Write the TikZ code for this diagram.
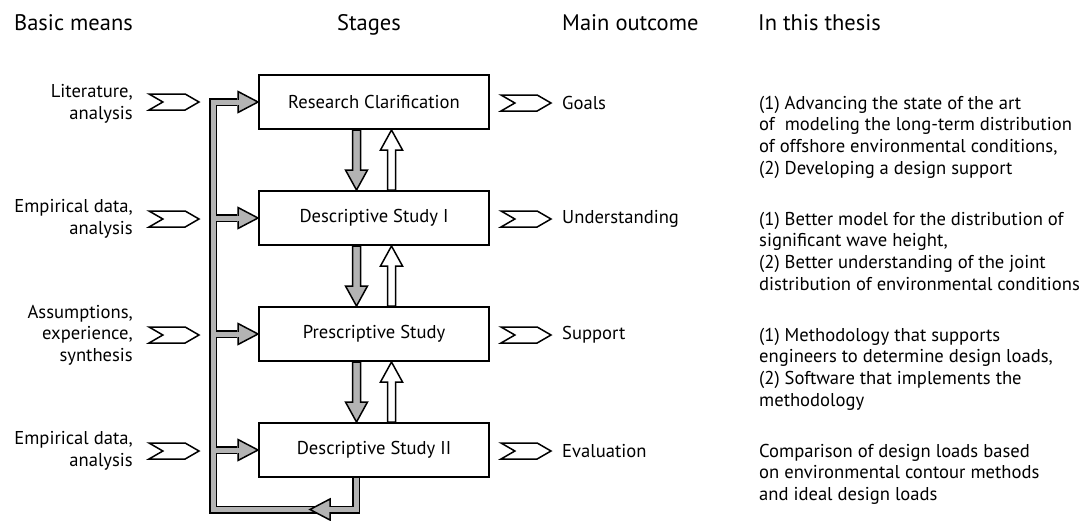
\documentclass[tikz,border=0pt]{standalone}
\usepackage{fontspec}
\setmainfont{PT Sans}
\usetikzlibrary{calc,shapes.symbols}
\definecolor{fatgray}{RGB}{179,179,179}
\begin{document}
\begin{tikzpicture}[x=1pt,y=-1pt,
  every node/.style={font=\fontsize{18.6}{21.7}\selectfont, inner sep=0pt},
  header/.style={font=\fontsize{22.5}{26}\selectfont},
  stagebox/.style={draw, line width=2pt, minimum width=230pt, minimum height=54pt},
  chevron/.style={signal, signal from=west, signal to=east, draw, line width=1.5pt,
    minimum width=50pt, minimum height=16pt, signal pointer angle=60},
  means/.style={anchor=east, align=right},
  outcome/.style={anchor=west},
  thesis/.style={anchor=base west, align=left},
  fatout/.style={line width=8pt, line join=miter},
  fatin/.style={line width=5pt, line join=miter, draw=fatgray},
  headtip/.style={fill=fatgray, draw=black, line width=1.5pt, line join=miter},
]
\useasboundingbox (0,0) rectangle (1090,520);

% a thick outlined arrow from #2 to #3, filled with #1
\newcommand\fatarrow[3][fatgray]{%
  \coordinate (fa-s) at #2;
  \coordinate (fa-e) at #3;
  \coordinate (fa-h) at ($(fa-e)!20pt!(fa-s)$);
  \filldraw[fill=#1, draw=black, line width=1.5pt, line join=miter]
    ($(fa-s)!4pt!90:(fa-e)$) -- ($(fa-h)!4pt!90:(fa-e)$) -- ($(fa-h)!11pt!90:(fa-e)$)
    -- (fa-e) -- ($(fa-h)!11pt!-90:(fa-e)$) -- ($(fa-h)!4pt!-90:(fa-e)$)
    -- ($(fa-s)!4pt!-90:(fa-e)$) -- cycle;}

% column headers
\node[header, anchor=base west] (hMeans) at (14,30) {Basic means};
\node[header, anchor=base] (hStages) at (369,30) {Stages};
\node[header, anchor=base west] (hOutcome) at (562,30) {Main outcome};
\node[header, anchor=base west] (hThesis) at (758,30) {In this thesis};

% stages
\node[stagebox] (RC)  at (374,102) {Research Clarification};
\node[stagebox] (DS1) at (374,218) {Descriptive Study I};
\node[stagebox] (PS)  at (374,334) {Prescriptive Study};
\node[stagebox] (DS2) at (374,450) {Descriptive Study II};

% basic means
\node[means] (mRC)  at (133,104) {Literature,\\analysis};
\node[means] (mDS1) at (133,219) {Empirical data,\\analysis};
\node[means] (mPS)  at (133,335) {Assumptions,\\experience,\\synthesis};
\node[means] (mDS2) at (133,451) {Empirical data,\\analysis};
\node[chevron] (iRC)  at (174,102) {};
\node[chevron] (iDS1) at (174,219) {};
\node[chevron] (iPS)  at (174,335) {};
\node[chevron] (iDS2) at (174,451) {};

% outcomes
\node[chevron] (oRC)  at (526,103) {};
\node[chevron] (oDS1) at (526,219) {};
\node[chevron] (oPS)  at (526,335) {};
\node[chevron] (oDS2) at (526,451) {};
\node[outcome] (gRC)  at (562,103) {Goals};
\node[outcome] (gDS1) at (562,219) {Understanding};
\node[outcome] (gPS)  at (562,335) {Support};
\node[outcome] (gDS2) at (562,451) {Evaluation};

% in this thesis (anchored at the baseline of the last line)
\node[thesis] (tRC) at (759,174.1) {(1) Advancing the state of the art\\of\ \ modeling the long-term distribution\\of offshore environmental conditions,\\(2) Developing a design support};
\node[thesis] (tDS1) at (759,290.1) {(1) Better model for the distribution of\\significant wave height,\\(2) Better understanding of the joint\\distribution of environmental conditions};
\node[thesis] (tPS) at (759,406.1) {(1) Methodology that supports\\engineers to determine design loads,\\(2) Software that implements the\\methodology};
\node[thesis] (tDS2) at (759,500.4) {Comparison of design loads based\\on environmental contour methods\\and ideal design loads};

% forward and backward steps between stages
\foreach \a/\b in {RC/DS1, DS1/PS, PS/DS2}{
  \fatarrow{($(\a.south)+(-17.5,0)$)}{($(\b.north)+(-17.5,0)$)}
  \fatarrow[white]{($(\b.north)+(17.5,0)$)}{($(\a.south)+(17.5,0)$)}
}

% iteration loop
\coordinate (loopBL) at (213,509.5);
\coordinate (loopBR) at ($(DS2.south)+(-18,0)$);
\draw[fatout] (loopBR) |- (loopBL) |- ($(RC.west)+(-21,0)$);
\foreach \s in {DS1, PS, DS2}
  \draw[fatout] (loopBL) |- ($(\s.west)+(-21,0)$);
\foreach \s in {RC, DS1, PS, DS2}
  \filldraw[headtip] ($(\s.west)+(-20,-10.5)$) -- (\s.west) -- ($(\s.west)+(-20,10.5)$) -- cycle;
\draw[fatin] (loopBR) |- (loopBL) |- ($(RC.west)+(-18,0)$);
\foreach \s in {DS1, PS, DS2}
  \draw[fatin] (loopBL) |- ($(\s.west)+(-18,0)$);
\filldraw[headtip] ($(loopBL)+(117,-10.5)$) -- ($(loopBL)+(97,0)$) -- ($(loopBL)+(117,10.5)$) -- cycle;
\draw[fatin] ($(loopBL)+(115,0)$) -- ($(loopBL)+(121,0)$);
\end{tikzpicture}
\end{document}
